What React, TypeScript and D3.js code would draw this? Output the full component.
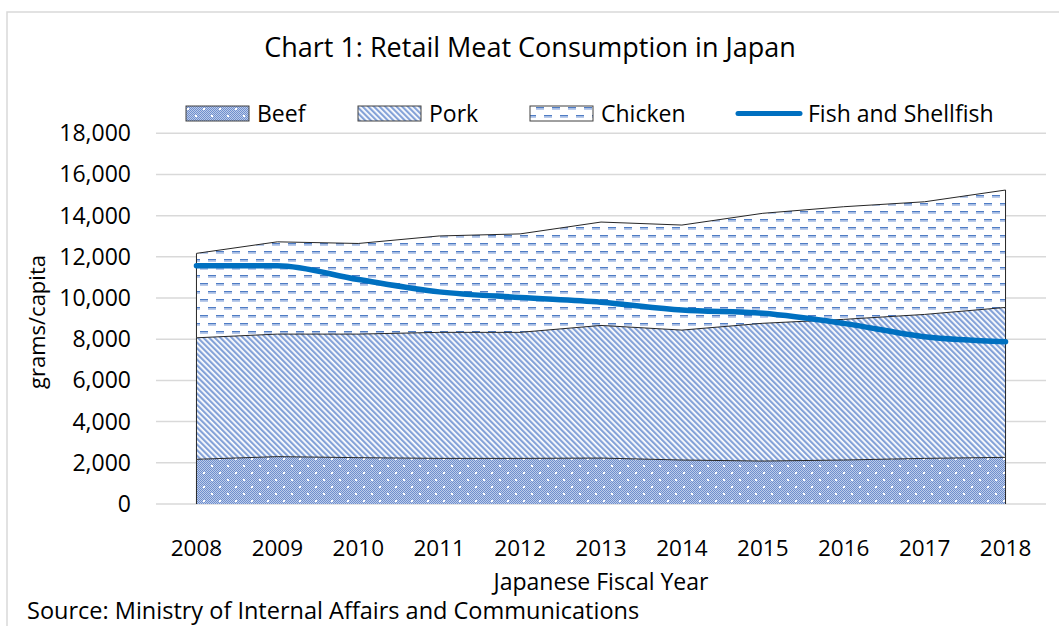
import React from "react";
import * as d3 from "d3";

const years = ["2008", "2009", "2010", "2011", "2012", "2013", "2014", "2015", "2016", "2017", "2018"];
const beef = [2170, 2300, 2250, 2215, 2215, 2230, 2135, 2085, 2135, 2215, 2265];
const pork = [5900, 5950, 6000, 6120, 6120, 6440, 6310, 6690, 6830, 6990, 7280];
const chicken = [4100, 4480, 4400, 4680, 4780, 5020, 5100, 5340, 5470, 5470, 5700];
const fish = [11570, 11570, 10900, 10300, 10030, 9800, 9420, 9260, 8770, 8120, 7880];
const yTicks = [0, 2000, 4000, 6000, 8000, 10000, 12000, 14000, 16000, 18000];
const seriesNames = ["Beef", "Pork", "Chicken"];

const W = 1059, H = 626;
const FONT = "'Open Sans', sans-serif";

export default function App() {
  const x = d3.scaleBand<string>().domain(years).range([156, 1046]);
  const cx = (i: number) => (x(years[i]) as number) + x.bandwidth() / 2;
  const y = d3.scaleLinear().domain([0, 18000]).range([504, 133.3]);

  const table = years.map((yr, i) => ({ year: yr, Beef: beef[i], Pork: pork[i], Chicken: chicken[i] }));
  const stack = d3.stack<any>().keys(seriesNames)(table);

  const area = d3.area<any>()
    .x((_d, i) => cx(i))
    .y0((d) => y(d[0]))
    .y1((d) => y(d[1]));

  const outline = (layer: any[]) => {
    const n = layer.length;
    const pts: [number, number][] = [];
    pts.push([cx(0), y(layer[0][0])]);
    layer.forEach((d, i) => pts.push([cx(i), y(d[1])]));
    pts.push([cx(n - 1), y(layer[n - 1][0])]);
    return d3.line()(pts) as string;
  };

  const fishLine = d3.line<number>()
    .x((_d, i) => cx(i))
    .y((d) => y(d))
    .curve(d3.curveMonotoneX)(fish) as string;

  const fills = ["url(#pBeef)", "url(#pPork)", "url(#pChicken)"];
  const fmt = d3.format(",");

  const legendItems = [
    { name: "Beef", x: 186, fill: fills[0] },
    { name: "Pork", x: 358, fill: fills[1] },
    { name: "Chicken", x: 530, fill: fills[2] },
  ];

  return (
    <svg width={W} height={H} style={{ position: "absolute", left: 0, top: 0, background: "#fff" }} fontFamily={FONT}>
      <defs>
        <pattern id="chk" width="2" height="2" patternUnits="userSpaceOnUse">
          <rect width="2" height="2" fill="#bccbea" />
          <rect width="1" height="1" fill="#6f8fcd" />
          <rect x="1" y="1" width="1" height="1" fill="#6f8fcd" />
        </pattern>
        <pattern id="pBeef" width="16" height="14" patternUnits="userSpaceOnUse">
          <rect width="16" height="14" fill="url(#chk)" />
          <rect x="3" y="3" width="2" height="2" fill="#ffffff" />
          <rect x="11" y="10" width="2" height="2" fill="#ffffff" />
        </pattern>
        <pattern id="pPork" width="4" height="4" patternUnits="userSpaceOnUse" patternTransform="rotate(-45)">
          <rect width="4" height="4" fill="#ffffff" />
          <rect width="2.2" height="4" fill="#84a2d8" />
        </pattern>
        <pattern id="pChicken" width="16" height="16" patternUnits="userSpaceOnUse">
          <rect width="16" height="16" fill="#ffffff" />
          <rect x="0" y="3" width="8" height="1.4" fill="#4f7cc4" />
          <rect x="0" y="4.4" width="8" height="1.3" fill="#9db6e2" />
          <rect x="8" y="11" width="8" height="1.4" fill="#4f7cc4" />
          <rect x="8" y="12.4" width="8" height="1.3" fill="#9db6e2" />
        </pattern>
      </defs>

      {/* chart border */}
      <rect x={7} y={12} width={1200} height={800} fill="none" stroke="#d9d9d9" strokeWidth={1.5} />

      {/* title */}
      <text x={530} y={57} textAnchor="middle" fontSize={27} fill="#000">Chart 1: Retail Meat Consumption in Japan</text>

      {/* legend */}
      {legendItems.map((it) => (
        <g key={it.name}>
          <rect x={it.x} y={106} width={63} height={15} fill={it.fill} stroke="#404040" strokeWidth={1} />
          <text x={it.x + 71} y={121.5} fontSize={23} fill="#000">{it.name}</text>
        </g>
      ))}
      <line x1={738} x2={800} y1={113.5} y2={113.5} stroke="#0070c0" strokeWidth={5} strokeLinecap="round" />
      <text x={808} y={121.5} fontSize={23} fill="#000">Fish and Shellfish</text>

      {/* gridlines */}
      {yTicks.map((t) => (
        <line key={t} x1={156} x2={1046} y1={y(t)} y2={y(t)} stroke="#d9d9d9" strokeWidth={1.5} />
      ))}

      {/* y labels */}
      {yTicks.map((t) => (
        <text key={t} x={131} y={y(t) + 8} textAnchor="end" fontSize={23} fill="#000">{fmt(t)}</text>
      ))}

      {/* areas */}
      {stack.map((layer, k) => (
        <path key={k} d={area(layer as any) as string} fill={fills[k]} stroke="none" />
      ))}
      {stack.map((layer, k) => (
        <path key={"o" + k} d={outline(layer as any)} fill="none" stroke="#262626" strokeWidth={1} />
      ))}

      {/* fish line */}
      <path d={fishLine} fill="none" stroke="#0070c0" strokeWidth={5.5} strokeLinecap="round" strokeLinejoin="round" />

      {/* x labels */}
      {years.map((yr, i) => (
        <text key={yr} x={cx(i)} y={556} textAnchor="middle" fontSize={22.5} fill="#000">{yr}</text>
      ))}

      <text x={601} y={590} textAnchor="middle" fontSize={23} fill="#000">Japanese Fiscal Year</text>
      <text transform={`translate(45,322) rotate(-90)`} textAnchor="middle" fontSize={22} fill="#000">grams/capita</text>
      <text x={27} y={619} fontSize={23.5} fill="#000">Source: Ministry of Internal Affairs and Communications</text>
    </svg>
  );
}
